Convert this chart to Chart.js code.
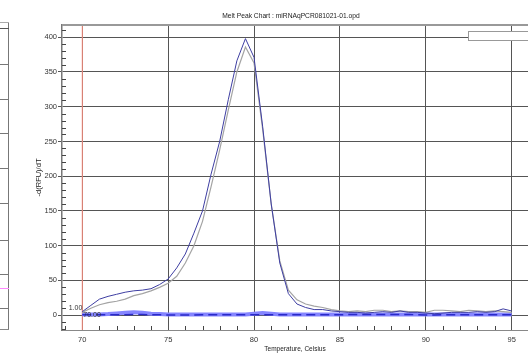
<!DOCTYPE html>
<html>
<head>
<meta charset="utf-8">
<script src="https://cdn.jsdelivr.net/npm/chart.js@4.4.1/dist/chart.umd.min.js"></script>
<style>
html,body{margin:0;padding:0;background:#fff;overflow:hidden;}
#wrap{position:relative;width:528px;height:354px;overflow:hidden;background:#fff;}
#grafico{position:absolute;left:0;top:0;}
.ln{position:absolute;left:0;width:9px;height:1px;background:#777;}
#legenda{position:absolute;left:468px;top:31px;width:80px;height:8px;border:1px solid #999;background:#fff;}
</style>
</head>
<body>
<div id="wrap">
  <!-- pedaco do painel vizinho cortado na esquerda -->
  <div style="position:absolute;left:8px;top:22px;width:1px;height:308px;background:#777;"></div>
  <div class="ln" style="top:22px;background:#aaa;"></div>
  <div class="ln" style="top:28px;background:#555;"></div>
  <div class="ln" style="top:64px;"></div>
  <div class="ln" style="top:99px;"></div>
  <div class="ln" style="top:133px;"></div>
  <div class="ln" style="top:168px;"></div>
  <div class="ln" style="top:203px;"></div>
  <div class="ln" style="top:240px;"></div>
  <div class="ln" style="top:274px;"></div>
  <div class="ln" style="top:288px;background:#ff88ff;"></div>
  <div class="ln" style="top:308px;"></div>
  <div class="ln" style="top:329px;background:#888;"></div>
  <canvas id="grafico" width="528" height="354"></canvas>
  <div id="legenda"></div>
</div>
<script>
const titulo = "Melt Peak Chart : miRNAqPCR081021-01.opd";

const temps = [70,70.5,71,71.5,72,72.5,73,73.5,74,74.5,75,75.5,76,76.5,77,77.5,78,78.5,79,79.5,
  80,80.5,81,81.5,82,82.5,83,83.5,84,84.5,85,85.5,86,86.5,87,87.5,88,88.5,89,89.5,
  90,90.5,91,91.5,92,92.5,93,93.5,94,94.5,95];

const curvaAzul = [5,14,23,27,30,33,35,36,38,44,52,68,88,118,150,203,250,310,366,398,
  371,272,160,75,31,16,11,8,8,6,5,4,4,3,4,5,4,6,4,4,
  3,2,3,4,4,4,5,4,5,9,6];

const curvaCinza = [4,10,15,18,20,23,28,31,35,40,46,56,75,100,135,185,238,295,350,386,
  363,268,160,78,36,22,16,13,11,8,6,5,6,5,7,7,5,6,5,5,
  4,7,7,6,5,7,6,5,6,5,4];

const baseClara = [1,1,1,1.5,2.5,3.5,4,3.5,2,1.5,1,1,1,1,1,1,1,1,1,1,
  2,3,2,1,1,1,1,1,1,1,1,1,1,1,1,1,1,1,1,1,
  1,1,1,1,1,1,1,1,1,1,1];

const baseEscura = [0.5,0.5,0.5,0.5,0.5,0.5,0.8,0.8,0.5,0.5,0.3,0.3,0.3,0.3,0.5,0.5,0.5,0.5,0.5,0.5,
  0.5,0.5,0.5,0.5,0.5,0.5,0.5,0.5,0.5,0.5,0.5,1,1,1,1,1,1,1,1,0.5,
  0.3,0.3,0.5,0.5,0.5,0.5,0.5,0.5,0.5,0.5,0.5];

const xTicks = [70,75,80,85,90,95];
const yTicks = [0,50,100,150,200,250,300,350,400];
const xMin = 68.82, xMax = 95.95;
const yMin = -21.4, yMax = 417.6;
const limiarTemp = 70;
const limiarValor = 1.00;

function pontos(valores){
  return temps.map((t,i)=>({x:t,y:valores[i]}));
}

const fonte = "'Liberation Sans', Arial, sans-serif";

const detalhes = {
  id:'detalhes',
  afterDraw(chart){
    const ctx = chart.ctx;
    const a = chart.chartArea;
    const sx = chart.scales.x, sy = chart.scales.y;
    ctx.save();
    // borda de cima
    ctx.strokeStyle = '#999';
    ctx.lineWidth = 2;
    ctx.beginPath();
    ctx.moveTo(a.left, a.top);
    ctx.lineTo(a.right, a.top);
    ctx.stroke();
    // marcas menores
    ctx.strokeStyle = '#444';
    ctx.lineWidth = 1;
    ctx.beginPath();
    for(let v=-20; v<=410; v+=10){
      if(v%50===0) continue;
      const y = Math.round(sy.getPixelForValue(v))+0.5;
      ctx.moveTo(a.left, y);
      ctx.lineTo(a.left+4, y);
    }
    for(let t=69; t<=95; t++){
      if(t%5===0) continue;
      const x = Math.round(sx.getPixelForValue(t))+0.5;
      ctx.moveTo(x, a.bottom);
      ctx.lineTo(x, a.bottom-4);
    }
    ctx.stroke();
    // rotulos do limiar
    ctx.fillStyle = '#333';
    ctx.font = "7px "+fonte;
    ctx.textBaseline = 'middle';
    const xl = sx.getPixelForValue(limiarTemp);
    const yl = sy.getPixelForValue(limiarValor);
    ctx.textAlign = 'right';
    ctx.fillText(limiarValor.toFixed(2), xl, yl-6);
    ctx.textAlign = 'left';
    ctx.fillText(limiarTemp.toFixed(2), xl+1, yl+1);
    // titulo
    ctx.fillStyle = '#222';
    ctx.font = "6.7px "+fonte;
    ctx.textAlign = 'center';
    ctx.fillText(titulo, 291, 16);
    ctx.restore();
  }
};

new Chart(document.getElementById('grafico'), {
  type:'line',
  data:{
    datasets:[
      {data:pontos(curvaAzul), borderColor:'#3e3ea2', borderWidth:1},
      {data:pontos(curvaCinza), borderColor:'#a4a4a4', borderWidth:1.2},
      {data:pontos(baseEscura), borderColor:'#2a2ac8', borderWidth:1.5, borderDash:[9,5]},
      {data:pontos(baseClara), borderColor:'#8585ff', borderWidth:4},
      {data:[{x:limiarTemp,y:yMin},{x:limiarTemp,y:yMax}], borderColor:'#ff9080', borderWidth:1}
    ]
  },
  options:{
    responsive:false,
    animation:false,
    layout:{padding:{top:25,left:0,right:0,bottom:0}},
    elements:{point:{radius:0}, line:{tension:0}},
    plugins:{legend:{display:false}, tooltip:{enabled:false}, title:{display:false}},
    scales:{
      x:{
        type:'linear', min:xMin, max:xMax,
        afterBuildTicks:s=>{ s.ticks = xTicks.map(v=>({value:v})); },
        afterFit:s=>{ s.height = 24; },
        grid:{color:'#555', lineWidth:1, drawTicks:false},
        border:{color:'#888', width:1},
        ticks:{font:{family:fonte, size:7.5}, color:'#333', padding:5, maxRotation:0},
        title:{display:true, text:'Temperature, Celsius', font:{family:fonte, size:6.5}, color:'#222', padding:{top:0,bottom:1}}
      },
      y:{
        type:'linear', min:yMin, max:yMax,
        afterBuildTicks:s=>{ s.ticks = yTicks.map(v=>({value:v})); },
        afterFit:s=>{ s.width = 62; },
        grid:{color:'#555', lineWidth:1, tickLength:4},
        border:{color:'#777', width:1.5},
        ticks:{font:{family:fonte, size:7.5}, color:'#333', padding:1},
        title:{display:true, text:'-d(RFU)/dT', font:{family:fonte, size:7.5}, color:'#222', padding:{top:34,bottom:0}}
      }
    }
  },
  plugins:[detalhes]
});
</script>
</body>
</html>
